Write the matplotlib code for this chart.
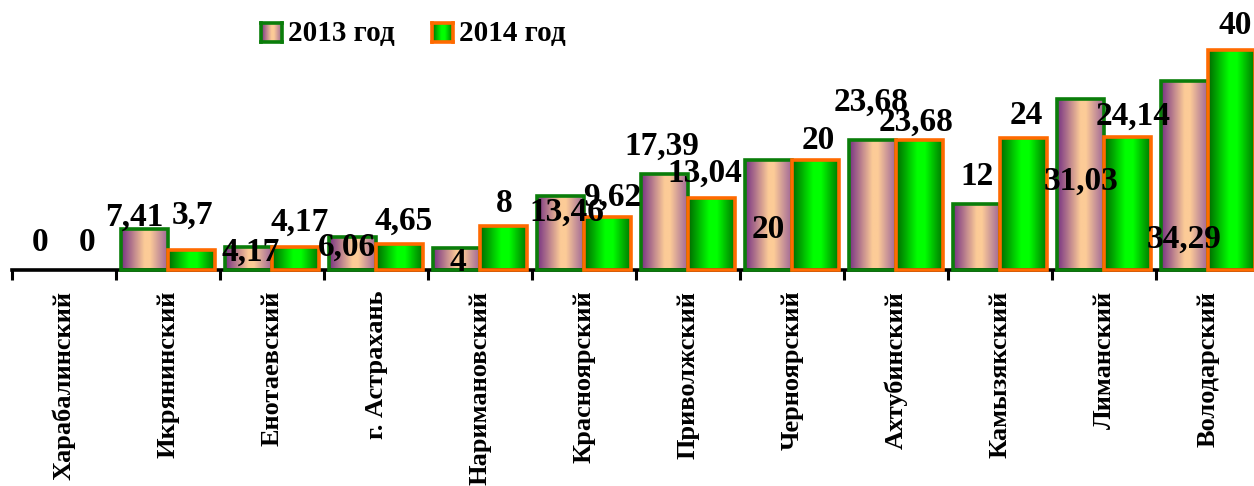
import numpy as np
import matplotlib
matplotlib.use("Agg")
import matplotlib.pyplot as plt
from matplotlib.colors import LinearSegmentedColormap
from matplotlib.patches import Rectangle

plt.rcParams['font.family'] = ['Liberation Serif', 'DejaVu Serif']
plt.rcParams['font.weight'] = 'bold'

# districts and values by year
districts = ['Харабалинский', 'Икрянинский', 'Енотаевский', 'г. Астрахань',
             'Наримановский', 'Красноярский', 'Приволжский', 'Черноярский',
             'Ахтубинский', 'Камызякский', 'Лиманский', 'Володарский']
vals_2013 = [0, 7.41, 4.17, 6.06, 4, 13.46, 17.39, 20, 23.68, 12, 31.03, 34.29]
vals_2014 = [0, 3.7, 4.17, 4.65, 8, 9.62, 13.04, 20, 23.68, 24, 24.14, 40]
series_names = ['2013 год', '2014 год']

# label offsets from bar top, pixels (dx, dy)
offs_2013 = [(-1, 28), (-10, 12), (2, -5), (-6, -11), (1, -14), (6, -16),
             (-3, 28), (0, -69), (-2, 37), (0, 28), (0, -82), (0, -158)]
offs_2014 = [(0, 28), (1, 34), (4, 25), (4, 23), (1, 23), (5, 20),
             (-7, 25), (3, 20), (-3, 17), (3, 23), (6, 21), (4, 25)]

cmap_2013 = LinearSegmentedColormap.from_list(
    'peach', [(0, '#773383'), (0.5, '#fccb97'), (0.62, '#fccb97'), (1, '#a06898')])
cmap_2014 = LinearSegmentedColormap.from_list(
    'lime', [(0, '#006a00'), (0.45, '#00ff00'), (0.62, '#00ff00'), (1, '#007800')])
grad = np.linspace(0, 1, 64).reshape(1, -1)

W, H = 1254, 486
fig = plt.figure(figsize=(W / 100, H / 100), dpi=100)
ax = fig.add_axes([12 / W, (H - 270) / H, 1248 / W, 270 / H])

x = np.arange(len(districts))
bw = 0.45
ytop = 270 / 5.5


def draw_bars(xs, vals, cmap, edge, offs):
    for xc, v, (dx, dy) in zip(xs, vals, offs):
        if v > 0:
            rect = Rectangle((xc - bw / 2, 0), bw, v, facecolor='none',
                             edgecolor=edge, linewidth=2.6, zorder=3,
                             clip_on=False)
            ax.add_patch(rect)
            im = ax.imshow(grad, cmap=cmap, aspect='auto', zorder=2,
                           extent=(xc - bw / 2, xc + bw / 2, 0, v))
            im.set_clip_path(rect)
        ax.annotate(f'{v:g}'.replace('.', ','), (xc, v), xytext=(dx, dy),
                    textcoords='offset pixels', ha='center', va='center',
                    fontsize=24, fontweight='bold', zorder=5,
                    annotation_clip=False)


draw_bars(x - bw / 2, vals_2013, cmap_2013, '#0a7d0a', offs_2013)
draw_bars(x + bw / 2, vals_2014, cmap_2014, '#ff6a00', offs_2014)

ax.set_xlim(-0.5, len(districts) - 0.5)
ax.set_ylim(0, ytop)
for s in ['left', 'right', 'top']:
    ax.spines[s].set_visible(False)
ax.spines['bottom'].set_linewidth(2.6)
ax.set_yticks([])
ax.set_xticks(x)
ax.set_xticklabels(districts, rotation=90, fontsize=19, fontweight='bold')
ax.tick_params(axis='x', which='major', length=0, pad=15)
ax.set_xticks(np.arange(len(districts) + 1) - 0.5, minor=True)
ax.tick_params(axis='x', which='minor', length=7, width=2.2)

# legend drawn by hand so the markers keep the gradients
for i, (name, cmap, edge) in enumerate(zip(series_names, [cmap_2013, cmap_2014],
                                           ['#0a7d0a', '#ff6a00'])):
    mx = 261 + i * 171
    lax = fig.add_axes([mx / W, (H - 42) / H, 21 / W, 19 / H])
    lax.imshow(grad, cmap=cmap, aspect='auto')
    lax.set_xticks([])
    lax.set_yticks([])
    for sp in lax.spines.values():
        sp.set_color(edge)
        sp.set_linewidth(2.6)
    fig.text((mx + 27) / W, (H - 33) / H, name, fontsize=21,
             fontweight='bold', va='center', ha='left')

fig.savefig('out.png', dpi=100, facecolor='white')
